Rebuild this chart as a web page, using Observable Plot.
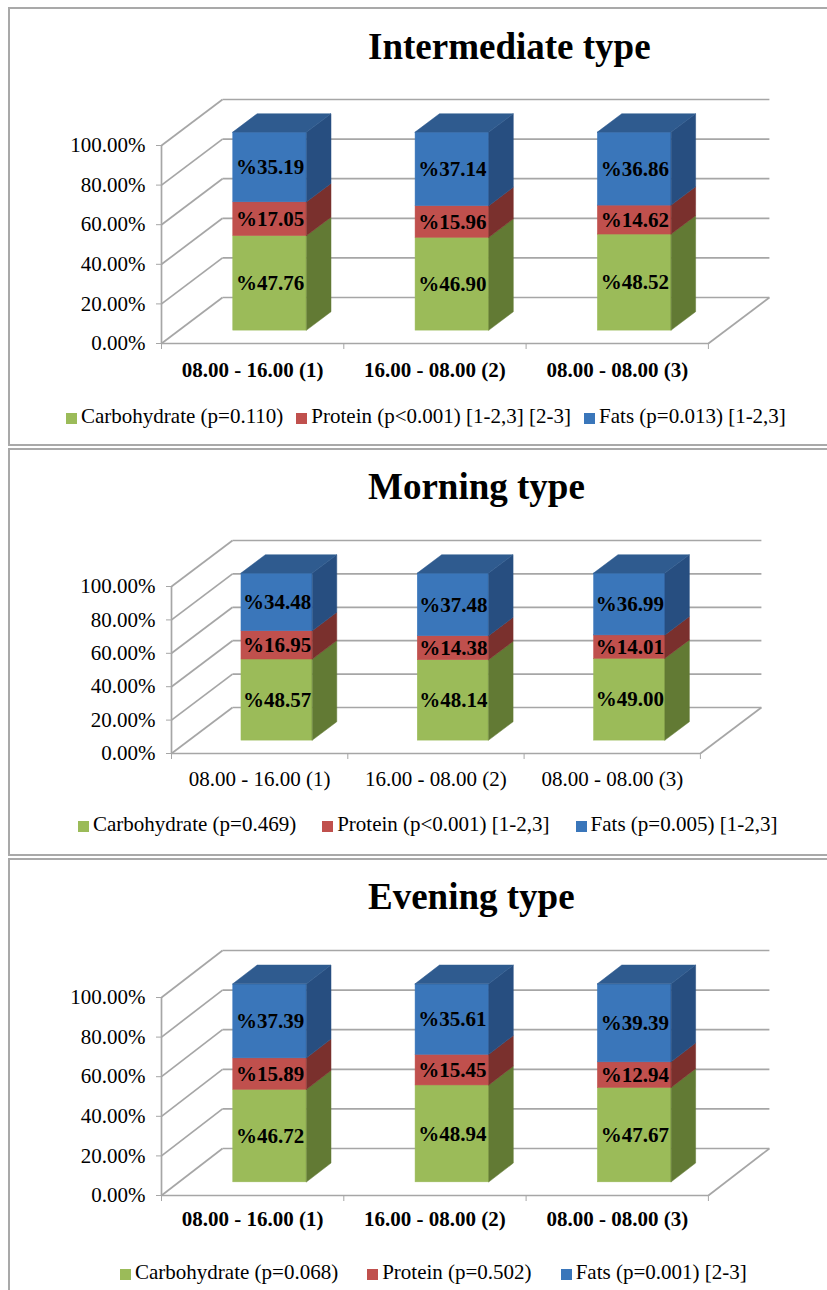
<!DOCTYPE html>
<html>
<head>
<meta charset="utf-8">
<script src="https://cdn.jsdelivr.net/npm/d3@7"></script>
<script src="https://cdn.jsdelivr.net/npm/@observablehq/plot@0.6"></script>
<style>
  body { margin: 0; background: #fff; }
  #root { position: relative; width: 827px; height: 1290px; overflow: hidden; font-family: "Liberation Serif", "Times New Roman", serif; }
  .panel { position: absolute; left: 8px; width: 840px; box-sizing: border-box; border: 2px solid #a9a9a9; border-right: none; background: #fff; overflow: hidden; }
  .title { font-weight: bold; font-size: 37px; line-height: 40px; color: #000; white-space: nowrap; }
  .legend { display: flex; align-items: center; font-size: 21px; line-height: 24px; color: #000; white-space: nowrap; }
  .legend .item { display: flex; align-items: center; }
  .legend .sw { width: 11px; height: 11px; margin-right: 4px; margin-top: 4px; }
  svg { display: block; }
</style>
</head>
<body>
<div id="root"></div>
<script>
// ---- data ----
const categories = ["08.00 - 16.00 (1)", "16.00 - 08.00 (2)", "08.00 - 08.00 (3)"];
const nutrients = ["Carbohydrate", "Protein", "Fats"];
const titles = ["Intermediate type", "Morning type", "Evening type"];
const yTicks = [0, 20, 40, 60, 80, 100];

const intermediateCarb = [47.76, 46.90, 48.52];
const intermediateProtein = [17.05, 15.96, 14.62];
const intermediateFats = [35.19, 37.14, 36.86];
const intermediateLegend = ["Carbohydrate (p=0.110)", "Protein (p<0.001) [1-2,3] [2-3]", "Fats (p=0.013) [1-2,3]"];

const morningCarb = [48.57, 48.14, 49.00];
const morningProtein = [16.95, 14.38, 14.01];
const morningFats = [34.48, 37.48, 36.99];
const morningLegend = ["Carbohydrate (p=0.469)", "Protein (p<0.001) [1-2,3]", "Fats (p=0.005) [1-2,3]"];

const eveningCarb = [46.72, 48.94, 47.67];
const eveningProtein = [15.89, 15.45, 12.94];
const eveningFats = [37.39, 35.61, 39.39];
const eveningLegend = ["Carbohydrate (p=0.068)", "Protein (p=0.502)", "Fats (p=0.001) [2-3]"];

// ---- styles ----
const frontColors = ["#9BBB59", "#C0504D", "#3A76BA"];
const sideColors = ["#627A34", "#7A302D", "#274E80"];
const topColors = ["#7F9A48", "#9E403D", "#2F5B8F"];
const gridColor = "#a6a6a6";
const FONT = '"Liberation Serif", "Times New Roman", serif';

function makePanel(cfg) {
  const root = document.getElementById("root");
  const panel = document.createElement("div");
  panel.className = "panel";
  panel.style.top = cfg.top + "px";
  panel.style.height = cfg.height + "px";
  root.appendChild(panel);

  const title = document.createElement("div");
  title.className = "title";
  title.textContent = cfg.title;
  title.style.height = cfg.titleBlock + "px";
  title.style.boxSizing = "border-box";
  title.style.paddingTop = cfg.titlePad + "px";
  title.style.paddingLeft = "358px";
  panel.appendChild(title);

  const svgLeft = 10;
  const svgWidth = 817;
  const marginLeft = cfg.axisX - svgLeft;
  const frameW = 3 * cfg.unitX + cfg.depthX;
  const marginRight = svgWidth - marginLeft - frameW;
  const marginTop = (cfg.floorY - cfg.svgTop) - cfg.unitY - cfg.depthY;
  const frameH = cfg.unitY + cfg.depthY;
  const marginBottom = cfg.svgHeight - marginTop - frameH;

  const DX = cfg.depthX / cfg.unitX;          // depth in category units
  const DY = cfg.depthY / cfg.unitY * 100;    // depth in percent units
  const f1 = 0.28, f2 = 0.68, barL = 0.30, barR = 0.705;

  const values = [cfg.carb, cfg.protein, cfg.fats];
  const fronts = [], sides = [], tops = [];
  categories.forEach((c, i) => {
    let lo = 0;
    values.forEach((arr, k) => {
      const v = arr[i];
      const hi = lo + v;
      const xl = i + barL + f1 * DX, xr = i + barR + f1 * DX;
      const oy = f1 * DY, ddx = (f2 - f1) * DX, ddy = (f2 - f1) * DY;
      fronts.push({x1: xl, x2: xr, y1: lo + oy, y2: hi + oy, fill: frontColors[k],
                   xm: (xl + xr) / 2, ym: (lo + hi) / 2 + oy, label: "%" + v.toFixed(2)});
      const id = i + "-" + k;
      sides.push({id, x: xr, y1: lo + oy, y2: hi + oy, fill: sideColors[k]});
      sides.push({id, x: xr + ddx, y1: lo + oy + ddy, y2: hi + oy + ddy, fill: sideColors[k]});
      if (k === values.length - 1) {
        tops.push({id: "t" + i, y: hi + oy, x1: xl, x2: xr, fill: topColors[k]});
        tops.push({id: "t" + i, y: hi + oy + ddy, x1: xl + ddx, x2: xr + ddx, fill: topColors[k]});
      }
      lo = hi;
    });
  });

  const grid = [];
  yTicks.forEach(v => {
    grid.push({x1: DX, y1: v + DY, x2: 3 + DX, y2: v + DY});
    grid.push({x1: 0, y1: v, x2: DX, y2: v + DY});
  });
  grid.push({x1: 0, y1: 0, x2: 3, y2: 0});
  grid.push({x1: 3, y1: 0, x2: 3 + DX, y2: DY});

  const svg = Plot.plot({
    width: svgWidth,
    height: cfg.svgHeight,
    marginLeft, marginRight, marginTop, marginBottom,
    style: {fontFamily: FONT, fontSize: "21px", background: "transparent", color: "#000"},
    x: {domain: [0, 3 + DX]},
    y: {domain: [0, 100 + DY]},
    color: {type: "identity"},
    marks: [
      Plot.link(grid, {x1: "x1", y1: "y1", x2: "x2", y2: "y2", stroke: gridColor, strokeWidth: 1.7}),
      Plot.ruleX([0], {y1: 0, y2: 100, stroke: gridColor, strokeWidth: 1.7}),
      Plot.axisY({ticks: yTicks, tickSize: 5, tickPadding: 11, stroke: gridColor,
                  tickFormat: d => d.toFixed(2) + "%", fontSize: 21, fill: "#000", label: null}),
      Plot.axisX({ticks: [0, 1, 2, 3], tickSize: 6, stroke: gridColor, tickFormat: () => "", label: null}),
      Plot.axisX({ticks: [0.5, 1.5, 2.5], tickSize: 0, tickPadding: cfg.xLabelOffset,
                  tickFormat: d => categories[Math.floor(d)], fontSize: 21,
                  fontWeight: cfg.boldX ? "bold" : "normal", lineAnchor: "middle", fill: "#000", label: null}),
      Plot.rect(fronts, {x1: "x1", x2: "x2", y1: "y1", y2: "y2", fill: "fill", stroke: "fill", strokeWidth: 0.5}),
      Plot.area(sides, {x1: "x", y1: "y1", y2: "y2", z: "id", fill: "fill", stroke: "fill", strokeWidth: 0.5}),
      Plot.area(tops, {y1: "y", x1: "x1", x2: "x2", z: "id", fill: "fill", stroke: "fill", strokeWidth: 0.5}),
      Plot.text(fronts, {x: "xm", y: "ym", text: "label", fontWeight: "bold", fontSize: 21, fill: "#000"})
    ]
  });
  panel.appendChild(svg);

  const legend = document.createElement("div");
  legend.className = "legend";
  legend.style.paddingTop = cfg.legendPad + "px";
  legend.style.paddingLeft = (cfg.legendLeft - 10) + "px";
  legend.style.gap = cfg.legendGap + "px";
  cfg.legend.forEach((txt, k) => {
    const item = document.createElement("div");
    item.className = "item";
    const sw = document.createElement("span");
    sw.className = "sw";
    sw.style.background = frontColors[k];
    item.appendChild(sw);
    const t = document.createElement("span");
    t.textContent = txt;
    item.appendChild(t);
    legend.appendChild(item);
  });
  panel.appendChild(legend);
}

makePanel({
  top: 7, height: 439, title: titles[0], titleBlock: 66, titlePad: 18,
  carb: intermediateCarb, protein: intermediateProtein, fats: intermediateFats,
  legend: intermediateLegend, legendLeft: 66, legendGap: 13, legendPad: 14,
  boldX: true, axisX: 161, floorY: 343, svgTop: 75, svgHeight: 315,
  unitX: 182.3, unitY: 198, depthX: 61, depthY: 46, xLabelOffset: 27
});
makePanel({
  top: 448, height: 408, title: titles[1], titleBlock: 65, titlePad: 17,
  carb: morningCarb, protein: morningProtein, fats: morningFats,
  legend: morningLegend, legendLeft: 78, legendGap: 26, legendPad: 15,
  boldX: false, axisX: 171, floorY: 753, svgTop: 515, svgHeight: 282,
  unitX: 176.3, unitY: 167, depthX: 61, depthY: 46, xLabelOffset: 26
});
makePanel({
  top: 858, height: 500, title: titles[2], titleBlock: 65, titlePad: 17,
  carb: eveningCarb, protein: eveningProtein, fats: eveningFats,
  legend: eveningLegend, legendLeft: 120, legendGap: 29, legendPad: 20,
  boldX: true, axisX: 161, floorY: 1195, svgTop: 925, svgHeight: 315,
  unitX: 182.3, unitY: 198, depthX: 61, depthY: 47, xLabelOffset: 24
});
</script>
</body>
</html>
